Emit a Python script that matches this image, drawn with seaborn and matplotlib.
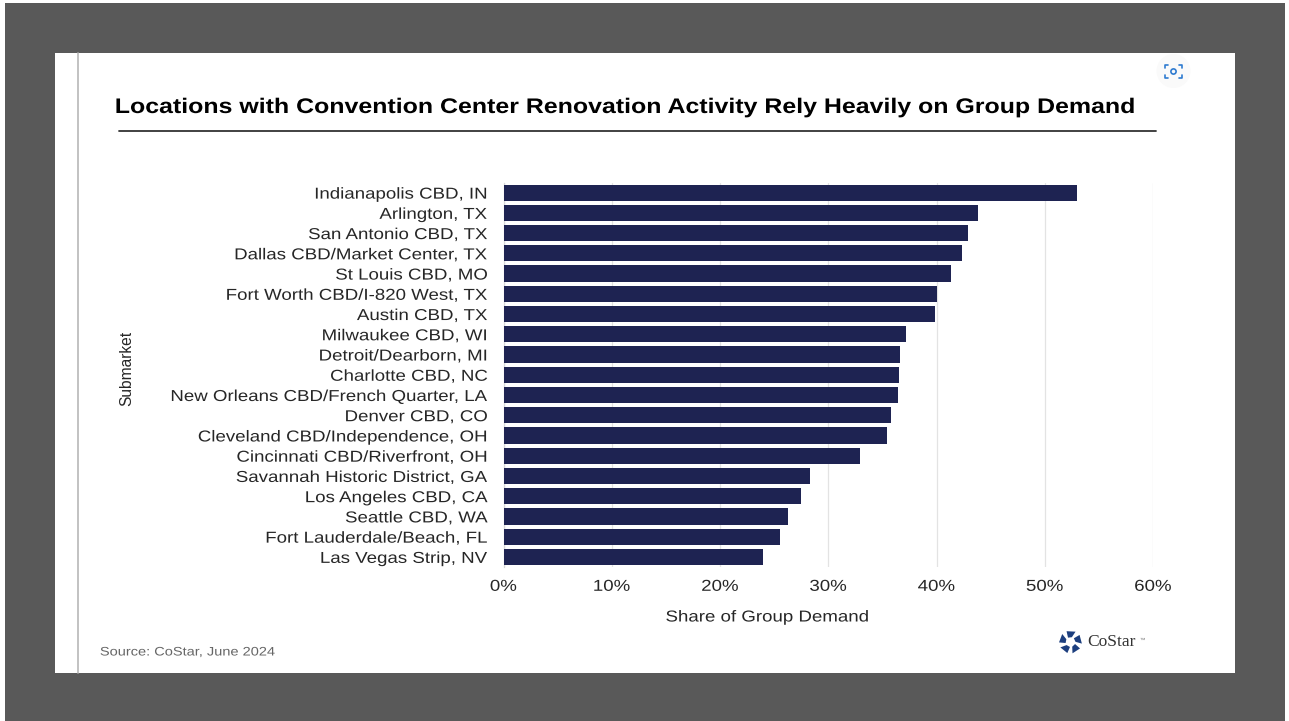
#!/usr/bin/env python3
# Share of group demand by submarket, screenshot of a slide on a grey backdrop

import numpy as np
import pandas as pd
import seaborn as sns
import matplotlib.pyplot as plt
from matplotlib.patches import Rectangle, Circle, Polygon
from matplotlib.lines import Line2D
from matplotlib.patheffects import AbstractPathEffect
from matplotlib.ticker import PercentFormatter
from matplotlib.transforms import Affine2D

submarkets = [
    "Indianapolis CBD, IN", "Arlington, TX", "San Antonio CBD, TX",
    "Dallas CBD/Market Center, TX", "St Louis CBD, MO", "Fort Worth CBD/I-820 West, TX",
    "Austin CBD, TX", "Milwaukee CBD, WI", "Detroit/Dearborn, MI", "Charlotte CBD, NC",
    "New Orleans CBD/French Quarter, LA", "Denver CBD, CO", "Cleveland CBD/Independence, OH",
    "Cincinnati CBD/Riverfront, OH", "Savannah Historic District, GA", "Los Angeles CBD, CA",
    "Seattle CBD, WA", "Fort Lauderdale/Beach, FL", "Las Vegas Strip, NV",
]
group_share = [53.0, 43.8, 42.9, 42.35, 41.3, 40.0, 39.9, 37.2, 36.6, 36.5,
               36.4, 35.8, 35.4, 32.9, 28.3, 27.5, 26.3, 25.5, 24.0]
x_ticks = [0, 10, 20, 30, 40, 50, 60]

W, H = 1289, 721
BAR_COLOR = "#1E2352"
TEXT = "#262626"
STRETCH = 1.18  # the screenshot is wider than it should be


class StretchX(AbstractPathEffect):
    # widen text along its own baseline, align: 0 left, 0.5 centre, 1 right
    def __init__(self, sx=STRETCH, align=0.0):
        self.sx = sx
        self.align = align

    def draw_path(self, renderer, gc, tpath, affine, rgbFace=None):
        ext = tpath.get_extents()
        x_fix = ext.x0 + ext.width * self.align
        stretched = Affine2D().translate(-x_fix, 0).scale(self.sx, 1).translate(x_fix, 0)
        renderer.draw_path(gc, tpath, stretched + affine, rgbFace)


def px_rect(x0, y0, x1, y1):
    # pixel box (y down) to figure fractions
    return [x0 / W, 1 - y1 / H, (x1 - x0) / W, (y1 - y0) / H]


def main():
    sns.set_style("white")
    plt.rcParams["font.family"] = ["Liberation Sans", "DejaVu Sans"]

    fig = plt.figure(figsize=(W / 100, H / 100), dpi=100, facecolor="white")

    # backdrop layer in pixel coordinates
    bg = fig.add_axes([0, 0, 1, 1], zorder=0)
    bg.set_xlim(0, W)
    bg.set_ylim(H, 0)
    bg.axis("off")
    bg.add_patch(Rectangle((5, 3), 1280, 718, color="#595959", lw=0))
    bg.add_patch(Rectangle((55, 53), 1180, 620, color="white", lw=0))
    bg.add_line(Line2D([77.5, 77.5], [53, 673], color="#b8b8b8", lw=1.2))

    title = bg.text(625, 107.5, "Locations with Convention Center Renovation Activity Rely Heavily on Group Demand",
                    ha="center", va="center", fontsize=15.2, fontweight="bold", color="black")
    title.set_path_effects([StretchX(align=0.5)])
    bg.add_line(Line2D([119, 1156], [131, 131], color="#333333", lw=1.3))
    source = bg.text(100, 652.5, "Source: CoStar, June 2024", ha="left", va="center",
                     fontsize=8.9, color="#666666")
    source.set_path_effects([StretchX()])

    # screenshot button top right
    bg.add_patch(Circle((1173.5, 71), 17, color="#fafafa", lw=0))
    for x0, x1, y0, y1 in [(1165, 1168, 68, 65), (1182, 1179, 68, 65),
                           (1165, 1168, 75, 78), (1182, 1179, 75, 78)]:
        bg.plot([x0, x0, x1], [y0, y1, y1], color="#2f7bd0", lw=1.2)
    bg.add_patch(Circle((1173.5, 71.5), 2.6, fill=False, ec="#2f7bd0", lw=1.2))

    # CoStar logo, five slanted blocks in a ring
    logo_cx, logo_cy = 1070.5, 642
    for k in range(5):
        mid = np.deg2rad(-90 + 72 * k)
        corners = []
        for rad, off in [(5, -30), (5, 16), (11.5, 26), (11.5, -20)]:
            ang = mid + np.deg2rad(off)
            corners.append((logo_cx + rad * np.cos(ang), logo_cy + rad * np.sin(ang)))
        bg.add_patch(Polygon(corners, closed=True, color="#1d3f7f", lw=0))
    bg.text(1087.5, 642.5, "CoStar", ha="left", va="center", fontsize=12.5,
            family="Liberation Serif", color="#333333")
    bg.text(1139, 640, "™", ha="left", va="center", fontsize=4, color="#777777")

    # main chart
    df = pd.DataFrame({"submarket": submarkets, "share": group_share})
    ax = fig.add_axes(px_rect(503.5, 182.5, 1153, 567), zorder=1)
    ax.patch.set_alpha(0)
    sns.barplot(data=df, y="submarket", x="share", color=BAR_COLOR, saturation=1,
                width=0.8, linewidth=0, ax=ax, zorder=3)

    ax.set_xlim(0, 60)
    ax.set_xticks(x_ticks)
    ax.xaxis.set_major_formatter(PercentFormatter(decimals=0))
    ax.grid(axis="x", color="#e3e3e3", lw=0.9, zorder=0)
    ax.grid(axis="y", visible=False)
    for side in ["top", "right", "bottom"]:
        ax.spines[side].set_visible(False)
    ax.spines["left"].set_color("#d8d8d8")
    ax.spines["left"].set_linewidth(0.9)

    ax.tick_params(axis="y", length=0, pad=11.5, labelsize=11.4, labelcolor=TEXT)
    ax.tick_params(axis="x", length=0, pad=8.5, labelsize=11.4, labelcolor=TEXT)
    for lab in ax.get_yticklabels():
        lab.set_path_effects([StretchX(align=1.0)])
    for lab in ax.get_xticklabels():
        lab.set_path_effects([StretchX(align=0.5)])

    ax.set_xlabel("")
    ax.set_ylabel("")
    xlab = bg.text(767.5, 617, "Share of Group Demand", ha="center", va="center",
                   fontsize=11.4, color=TEXT)
    xlab.set_path_effects([StretchX(align=0.5)])
    bg.text(127, 368, "Submarket", ha="center", va="center", rotation=90,
            fontsize=11.2, color=TEXT)

    fig.savefig("out.png", dpi=100, facecolor="white")
    plt.close(fig)


if __name__ == "__main__":
    main()
